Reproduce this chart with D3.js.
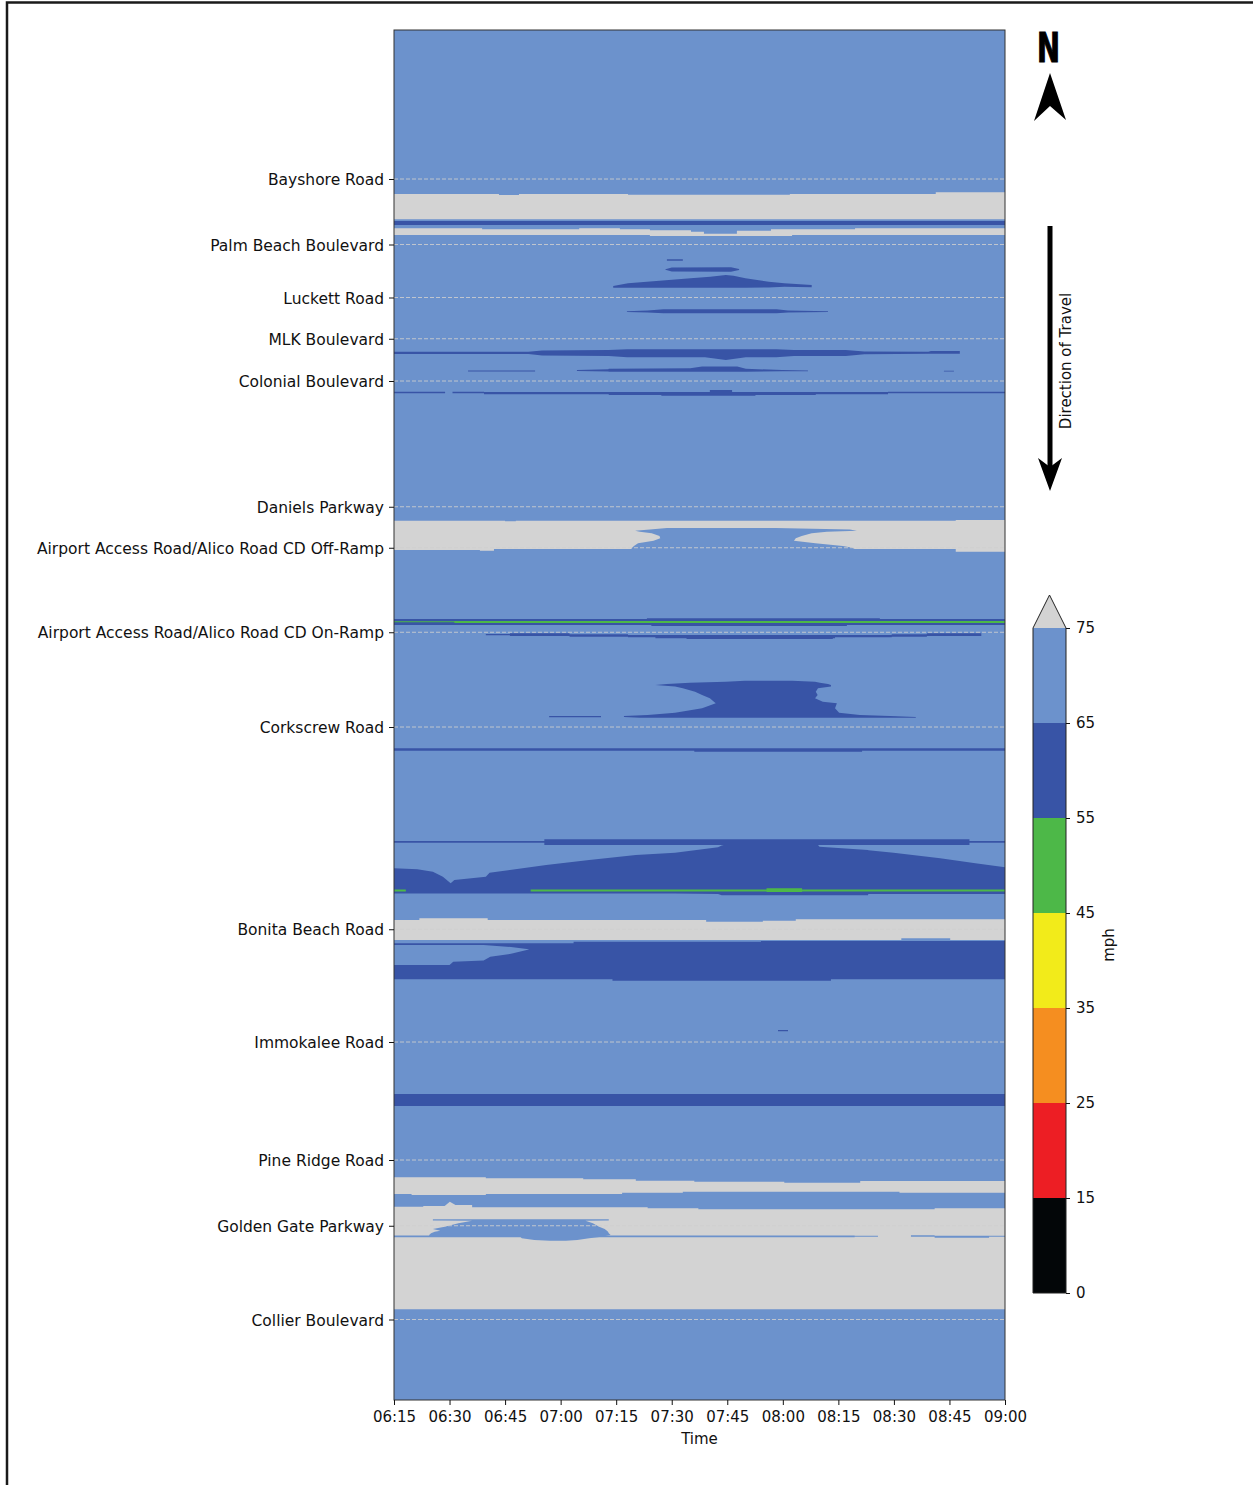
<!DOCTYPE html>
<html><head><meta charset="utf-8">
<script src="https://cdn.jsdelivr.net/npm/d3@7"></script>
<style>body{margin:0;background:#fff}svg{display:block}</style>
</head><body><div id="chart"></div>
<script>
// ---------- DATA ----------
// time: minutes after 06:15 ; distance: miles from northern edge of the plotted corridor
const timeTicks = [0, 15, 30, 45, 60, 75, 90, 105, 120, 135, 150, 165];
const timeLabels = ["06:15","06:30","06:45","07:00","07:15","07:30","07:45","08:00","08:15","08:30","08:45","09:00"];
const locations = ["Bayshore Road","Palm Beach Boulevard","Luckett Road","MLK Boulevard","Colonial Boulevard",
  "Daniels Parkway","Airport Access Road/Alico Road CD Off-Ramp","Airport Access Road/Alico Road CD On-Ramp",
  "Corkscrew Road","Bonita Beach Road","Immokalee Road","Pine Ridge Road","Golden Gate Parkway","Collier Boulevard"];
const locationDist = [5.96, 8.58, 10.70, 12.35, 14.04, 19.07, 20.71, 24.09, 27.88, 35.97, 40.48, 45.20, 47.83, 51.58];
const distDomain = [0, 54.8];
const timeDomain = [0, 165];
const speedBreaks = [0, 15, 25, 35, 45, 55, 65, 75];
const speedColors = ["#030608", "#ed1e24", "#f58e20", "#f2eb1a", "#4db848", "#3854a6", "#6c92cc"];
const overColor = "#d3d3d3";
const baseSpeed = 70;

// "h" patches: [minute, topDist, bottomDist] ; "v" patches: [dist, leftMinute, rightMinute]
const greyPatches = [
  {speed: 78, o: "h", c: "step", pts: [[0,6.56,7.57],[28.35,6.60,7.57],[33.75,6.56,7.57],[63.2,6.59,7.57],[106.9,6.56,7.57],[146.3,6.49,7.57],[165,6.49,7.57]]},
  {speed: 78, o: "h", c: "step", pts: [[0,7.93,8.20],[23.8,7.97,8.20],[50,7.93,8.20],[61,7.97,8.20],[69.1,8.01,8.24],[80.2,8.07,8.24],[83.7,8.15,8.24],[92.6,8.03,8.24],[101.8,7.97,8.24],[107.5,7.97,8.20],[124.5,7.93,8.20],[165,7.93,8.20]]},
  {speed: 78, o: "h", c: "step", pts: [[0,19.63,20.80],[23.2,19.63,20.83],[27,19.63,20.76],[30,19.65,20.76],[32.9,19.63,20.76],[151.7,19.60,20.87],[165,19.60,20.87]]},
  {speed: 78, o: "h", c: "step", pts: [[0,35.60,36.40],[6.85,35.53,36.40],[25.3,35.60,36.40],[84.3,35.67,36.40],[99.6,35.63,36.40],[108.5,35.57,36.40],[137,35.57,36.33],[150.2,35.57,36.40],[165,35.57,36.40]]},
  {speed: 78, o: "h", c: "step", pts: [[0,45.89,46.56],[4.75,45.89,46.60],[24.8,45.93,46.56],[51.1,45.97,46.56],[61.6,45.97,46.51],[65.3,46.03,46.51],[78,46.03,46.47],[81.1,46.07,46.47],[105.4,46.11,46.47],[125.9,46.04,46.47],[136.5,46.04,46.51],[165,46.04,46.51]]},
  {speed: 78, o: "h", c: "step", pts: [[0,47.07,51.17],[7.9,47.04,51.17],[15.8,47.00,51.17],[21.1,47.09,51.17],[68.5,47.13,51.17],[82.2,47.17,51.17],[146,47.13,51.17],[165,47.13,51.17]]},
  {speed: 78, o: "h", c: "linear", pts: [[13.6,47.05,47.06],[15.07,46.87,47.06],[16.6,47.0,47.01]]}
];
const greyHoles = [
  {speed: 70, o: "v", c: "linear", pts: [[19.92,73.7,103.1],[19.98,69.1,123.1],[20.03,65.1,125.0],[20.07,66.4,116.9],[20.13,69.6,112.8],[20.24,71.7,110.1],[20.33,71.9,108.5],[20.43,70.1,108.0],[20.53,65.9,113.8],[20.64,64.8,121.2],[20.71,64.3,123.8],[20.77,64.0,124.5]]},
  {speed: 70, o: "v", c: "linear", pts: [[47.57,10.5,58.0],[47.62,10.5,58.0],[47.625,21.1,51.7],[47.73,17.4,53.7],[47.87,13.7,55.4],[47.96,10.5,56.9],[48.03,12.5,57.5],[48.07,11.0,57.8],[48.13,10.0,58.0],[48.20,9.5,58.5],[48.27,9.5,56.0],[48.28,34.2,55.5],[48.33,34.5,52.7],[48.40,37.9,49.5],[48.43,42.1,46.4]]},
  {speed: 70, o: "h", c: "step", pts: [[0,48.22,48.29],[124.4,48.23,48.27],[130.7,48.23,48.27]]},
  {speed: 70, o: "h", c: "step", pts: [[139.6,48.21,48.27],[146,48.23,48.31],[160.7,48.23,48.27],[165,48.23,48.27]]}
];
const slowPatches = [
  {speed: 60, o: "h", c: "step", pts: [[0,7.64,7.80],[165,7.64,7.80]]},
  {speed: 60, o: "h", c: "step", pts: [[73.7,9.17,9.23],[78.0,9.17,9.23]]},
  {speed: 60, o: "h", c: "linear", pts: [[73.3,9.57,9.59],[75.0,9.50,9.66],[91.0,9.49,9.67],[93.2,9.56,9.60]]},
  {speed: 60, o: "h", c: "linear", pts: [[59.2,10.24,10.31],[63.2,10.13,10.31],[71.7,10.03,10.31],[80.1,9.93,10.31],[85.4,9.87,10.31],[89.6,9.80,10.31],[91.7,9.83,10.31],[94.9,9.93,10.31],[101.2,10.07,10.30],[105.4,10.13,10.27],[112.8,10.20,10.29]]},
  {speed: 60, o: "h", c: "linear", pts: [[62.9,11.25,11.28],[68.5,11.22,11.30],[72.8,11.17,11.33],[103.3,11.17,11.33],[106.4,11.22,11.30],[117.2,11.25,11.28]]},
  {speed: 60, o: "h", c: "linear", pts: [[0,12.87,12.96],[36.3,12.87,12.96],[40,12.82,13.02],[58,12.80,13.04],[63,12.77,13.09],[84,12.77,13.09],[89.6,12.77,13.20],[95,12.77,13.09],[103.2,12.77,13.09],[108,12.80,13.04],[122,12.80,13.04],[127,12.86,12.97],[144.3,12.87,12.95],[145,12.84,12.95],[152.8,12.84,12.95]]},
  {speed: 60, o: "h", c: "step", pts: [[20,13.62,13.66],[38.1,13.62,13.66]]},
  {speed: 60, o: "h", c: "linear", pts: [[49.4,13.60,13.64],[57.9,13.57,13.66],[58,13.55,13.67],[80,13.53,13.67],[83.2,13.46,13.67],[92.7,13.46,13.67],[95,13.55,13.67],[104.8,13.60,13.65],[111.8,13.62,13.65]]},
  {speed: 60, o: "h", c: "step", pts: [[148.5,13.63,13.66],[151.2,13.63,13.66]]},
  {speed: 60, o: "h", c: "step", pts: [[0,14.47,14.53],[13.8,14.47,14.53]]},
  {speed: 60, o: "h", c: "step", pts: [[15.8,14.47,14.53],[24.3,14.48,14.57],[58,14.48,14.60],[72.2,14.48,14.63],[85.3,14.40,14.63],[91.3,14.48,14.63],[97.6,14.48,14.60],[113.9,14.48,14.57],[133.4,14.47,14.53],[165,14.47,14.53]]},
  {speed: 60, o: "h", c: "step", pts: [[0,23.56,23.80],[68.3,23.53,23.80],[69.5,23.53,23.84],[122.3,23.53,23.80],[131.2,23.56,23.80],[165,23.56,23.80]]},
  {speed: 60, o: "h", c: "step", pts: [[24.8,24.16,24.21],[31.3,24.13,24.24],[47.4,24.17,24.27],[63.2,24.20,24.29],[70.6,24.20,24.33],[79.0,24.20,24.36],[118.5,24.20,24.33],[119.1,24.20,24.29],[134.4,24.17,24.27],[143.9,24.13,24.24],[158.6,24.13,24.24]]},
  {speed: 60, o: "v", c: "linear", pts: [[26.03,94.8,107.5],[26.07,89.6,113.7],[26.11,79.9,115.0],[26.16,73.7,117.2],[26.20,70.6,118.0],[26.26,75.9,118.0],[26.33,78.0,114.5],[26.47,81.3,113.9],[26.60,83.2,114.4],[26.73,85.3,113.7],[26.87,86.4,115.8],[26.93,86.9,119.6],[27.13,83.2,119.1],[27.31,75.9,120.2],[27.40,68.5,125.8],[27.44,62.1,133.9],[27.48,62.1,140.9],[27.51,66.4,140.9]]},
  {speed: 60, o: "h", c: "step", pts: [[41.9,27.44,27.49],[55.9,27.44,27.49]]},
  {speed: 60, o: "h", c: "step", pts: [[0,28.73,28.83],[81.1,28.73,28.87],[126.4,28.73,28.83],[165,28.73,28.83]]},
  {speed: 60, o: "h", c: "step", pts: [[0,32.44,32.51],[40.6,32.37,32.60],[155.4,32.44,32.51],[165,32.44,32.51]]},
  {speed: 60, o: "h", c: "linear", pts: [[0,33.53,34.54],[6.3,33.57,34.54],[10.5,33.67,34.54],[13.2,33.87,34.54],[15.3,34.13,34.54],[16.3,34.00,34.54],[24.8,33.87,34.54],[25.8,33.71,34.54],[41.1,33.40,34.54],[52.7,33.20,34.54],[65.3,33.00,34.54],[75.9,32.91,34.54],[87.5,32.69,34.56],[88.5,32.62,34.61],[89.6,32.58,34.61],[114.4,32.58,34.61],[114.9,32.67,34.61],[128,32.80,34.61],[128.1,32.81,34.56],[134.9,32.91,34.56],[147.5,33.13,34.56],[157.0,33.33,34.56],[165,33.49,34.56]]},
  {speed: 60, o: "h", c: "step", pts: [[0,36.53,37.97],[48.5,36.47,37.97],[59,36.47,38.03],[99.1,36.44,38.03],[118,36.44,37.97],[165,36.44,37.97]]},
  {speed: 60, o: "h", c: "step", pts: [[103.7,40.0,40.05],[106.4,40.0,40.05]]},
  {speed: 60, o: "h", c: "step", pts: [[0,42.56,43.04],[165,42.56,43.04]]}
];
const slowHoles = [
  {speed: 70, o: "h", c: "linear", pts: [[0,36.60,37.40],[15,36.60,37.40],[16,36.60,37.27],[24.2,36.60,37.22],[26,36.62,37.07],[31.6,36.68,36.95],[36.4,36.77,36.78]]}
];
const greenPatches = [
  {speed: 50, o: "h", c: "step", pts: [[0,23.65,23.69],[16.3,23.64,23.72],[165,23.64,23.72]]},
  {speed: 50, o: "h", c: "step", pts: [[0,34.38,34.46],[3.2,34.38,34.46]]},
  {speed: 50, o: "h", c: "step", pts: [[36.9,34.38,34.46],[100.6,34.33,34.48],[110.2,34.38,34.46],[165,34.38,34.46]]}
];

// ---------- DRAW ----------
const W = 1253, H = 1485;
const font = "DejaVu Sans, Liberation Sans, sans-serif";
const svg = d3.select("#chart").append("svg").attr("width", W).attr("height", H);

// outer frame
svg.append("path").attr("d", `M7,${H} L7,2.5 L${W},2.5`).attr("fill", "none").attr("stroke", "#1a1a1a").attr("stroke-width", 2.5);

const plot = {left: 394, right: 1005, top: 30, bottom: 1400};
const x = d3.scaleLinear().domain(timeDomain).range([plot.left, plot.right]);
const y = d3.scaleLinear().domain(distDomain).range([plot.top, plot.bottom]);
const color = d3.scaleThreshold().domain(speedBreaks.slice(1)).range([...speedColors, overColor]);

svg.append("clipPath").attr("id", "clip").append("rect")
  .attr("x", plot.left).attr("y", plot.top).attr("width", plot.right - plot.left).attr("height", plot.bottom - plot.top);
const g = svg.append("g").attr("clip-path", "url(#clip)");

g.append("rect").attr("x", x(timeDomain[0])).attr("y", y(distDomain[0]))
  .attr("width", x(timeDomain[1]) - x(timeDomain[0])).attr("height", y(distDomain[1]) - y(distDomain[0]))
  .attr("fill", color(baseSpeed));

const hArea = c => d3.area().curve(c === "step" ? d3.curveStepAfter : d3.curveLinear)
  .x(p => x(p[0])).y0(p => y(p[1])).y1(p => y(p[2]));
const vArea = c => d3.area().curve(d3.curveLinear)
  .y(p => y(p[0])).x0(p => x(p[1])).x1(p => x(p[2]));

const allPatches = [...greyPatches, ...greyHoles, ...slowPatches, ...slowHoles, ...greenPatches];
g.selectAll("path.patch").data(allPatches).join("path").attr("class", "patch")
  .attr("d", p => (p.o === "h" ? hArea(p.c) : vArea(p.c))(p.pts))
  .attr("fill", p => color(p.speed));

// dashed grid lines at locations
g.selectAll("line.grid").data(locationDist).join("line").attr("class", "grid")
  .attr("x1", plot.left).attr("x2", plot.right).attr("y1", d => y(d)).attr("y2", d => y(d))
  .attr("stroke", "#cfcfcf").attr("stroke-width", 1).attr("stroke-dasharray", "4,2").attr("opacity", 0.85);

// plot border
svg.append("rect").attr("x", plot.left).attr("y", plot.top).attr("width", plot.right - plot.left).attr("height", plot.bottom - plot.top)
  .attr("fill", "none").attr("stroke", "#333").attr("stroke-width", 1);

// y axis
const yAxis = d3.axisLeft(y).tickValues(locationDist).tickFormat((d, i) => locations[i]).tickSize(5).tickPadding(5);
const ya = svg.append("g").attr("transform", `translate(${plot.left},0)`).call(yAxis);
ya.select(".domain").remove();
ya.selectAll("text").attr("font-family", font).attr("font-size", 15.5).attr("fill", "#111").attr("dy", "0.36em");
ya.selectAll("line").attr("stroke", "#111");

// x axis
const xAxis = d3.axisBottom(x).tickValues(timeTicks).tickFormat((d, i) => timeLabels[i]).tickSize(5).tickPadding(6);
const xa = svg.append("g").attr("transform", `translate(0,${plot.bottom})`).call(xAxis);
xa.select(".domain").remove();
xa.selectAll("text").attr("font-family", font).attr("font-size", 15).attr("fill", "#111");
xa.selectAll("line").attr("stroke", "#111");
svg.append("text").attr("x", (plot.left + plot.right) / 2).attr("y", 1444).attr("text-anchor", "middle")
  .attr("font-family", font).attr("font-size", 15).attr("fill", "#111").text("Time");

// colorbar
const cb = {x: 1033, w: 33, top: 628, bottom: 1293};
const cbY = d3.scaleLinear().domain([0, speedBreaks.length - 1]).range([cb.bottom, cb.top]);
svg.selectAll("rect.cb").data(speedColors).join("rect").attr("class", "cb")
  .attr("x", cb.x).attr("width", cb.w).attr("y", (d, i) => cbY(i + 1)).attr("height", (d, i) => cbY(i) - cbY(i + 1))
  .attr("fill", d => d);
svg.append("path").attr("d", `M${cb.x},${cb.top} L${cb.x + cb.w / 2},${cb.top - 33} L${cb.x + cb.w},${cb.top} Z`)
  .attr("fill", overColor);
svg.append("path")
  .attr("d", `M${cb.x},${cb.bottom} L${cb.x},${cb.top} L${cb.x + cb.w / 2},${cb.top - 33} L${cb.x + cb.w},${cb.top} L${cb.x + cb.w},${cb.bottom} Z`)
  .attr("fill", "none").attr("stroke", "#222").attr("stroke-width", 1);
const cbAxis = d3.axisRight(cbY).tickValues(d3.range(speedBreaks.length)).tickFormat(i => speedBreaks[i]).tickSize(4).tickPadding(6);
const cba = svg.append("g").attr("transform", `translate(${cb.x + cb.w},0)`).call(cbAxis);
cba.select(".domain").remove();
cba.selectAll("text").attr("font-family", font).attr("font-size", 15).attr("fill", "#111");
cba.selectAll("line").attr("stroke", "#111");
svg.append("text").attr("transform", "translate(1114,945) rotate(-90)").attr("text-anchor", "middle")
  .attr("font-family", font).attr("font-size", 15).attr("fill", "#111").text("mph");

// north arrow
svg.append("text").attr("x", 1037).attr("y", 62).attr("font-family", "DejaVu Sans, sans-serif").attr("font-weight", "bold")
  .attr("font-size", 41).attr("textLength", 23).attr("lengthAdjust", "spacingAndGlyphs")
  .attr("fill", "#000").attr("stroke", "#000").attr("stroke-width", 1.2).text("N");
svg.append("path").attr("d", "M1050,73 L1066,120 L1050,106 L1034,121 Z").attr("fill", "#000");

// direction of travel arrow
svg.append("line").attr("x1", 1050).attr("x2", 1050).attr("y1", 226).attr("y2", 468).attr("stroke", "#000").attr("stroke-width", 5);
svg.append("path").attr("d", "M1050,491 L1038,458 L1050,467 L1062,458 Z").attr("fill", "#000");
svg.append("text").attr("transform", "translate(1071,361) rotate(-90)").attr("text-anchor", "middle")
  .attr("font-family", font).attr("font-size", 15).attr("fill", "#111").text("Direction of Travel");
</script>
</body></html>
